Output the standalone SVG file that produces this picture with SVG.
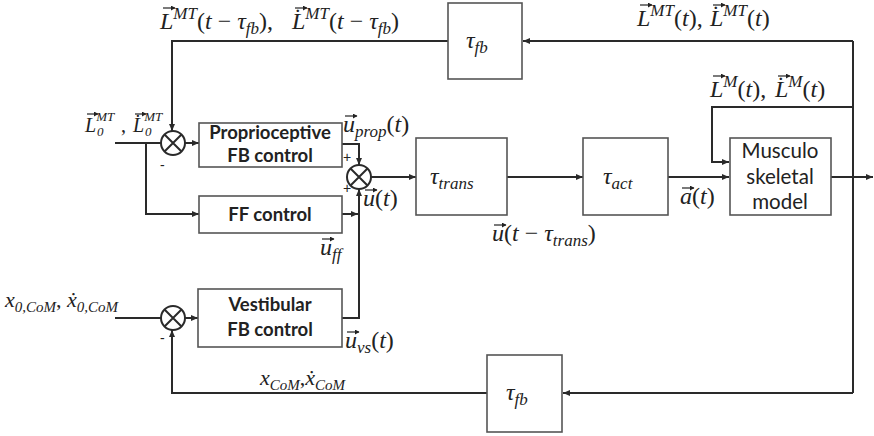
<svg xmlns="http://www.w3.org/2000/svg" width="874" height="436" viewBox="0 0 874 436">
<style>
.box{fill:#fff;stroke:#555;stroke-width:1.6}
.ln{fill:none;stroke:#2a2a2a;stroke-width:2}
.sum{fill:#fff;stroke:#2a2a2a;stroke-width:2}
.vec{fill:none;stroke:#222;stroke-width:1.2}
.bt{font-family:Lato,"Open Sans",sans-serif;font-weight:bold;font-size:18.5px;fill:#222;text-anchor:middle}
.rt{font-family:Lato,"Open Sans",sans-serif;font-size:20.5px;fill:#222;text-anchor:middle}
.m{font-family:"Liberation Serif","DejaVu Serif",serif;font-size:24px;fill:#222}
.mx{font-size:22px}
.m19{font-size:20px}
.i{font-style:italic}
.s{font-size:17px;font-style:italic}
.s15{font-size:15px;font-style:italic}
.s13{font-size:13px;font-style:italic}
.sg{font-family:"Liberation Sans",sans-serif;font-size:14px;fill:#222}
</style>
<defs>
<marker id="ah" markerUnits="userSpaceOnUse" markerWidth="8" markerHeight="8" refX="7" refY="4" orient="auto">
<path d="M0,1 L7,4 L0,7 z" fill="#2a2a2a"/>
</marker>
<marker id="va" markerUnits="userSpaceOnUse" markerWidth="5" markerHeight="5" refX="4" refY="2.5" orient="auto">
<path d="M0,0 L4.5,2.5 L0,5 z" fill="#222"/>
</marker>
</defs>
<g id="connectors">
<path class="ln" d="M853,41 L853,393"/>
<path class="ln" d="M853,41 L523,41" marker-end="url(#ah)"/>
<path class="ln" d="M448,41 L172,41 L172,131" marker-end="url(#ah)"/>
<path class="ln" d="M853,107 L712,107 L712,162 L729,162" marker-end="url(#ah)"/>
<path class="ln" d="M115,143 L161,143"/>
<path class="ln" d="M185,143 L199,143" marker-end="url(#ah)"/>
<path class="ln" d="M146,143 L146,214 L199,214" marker-end="url(#ah)"/>
<path class="ln" d="M342,144 L359,144 L359,165" marker-end="url(#ah)"/>
<path class="ln" d="M342,214 L358,214" marker-end="url(#ah)"/>
<path class="ln" d="M342,318 L359,318 L359,189" marker-end="url(#ah)"/>
<path class="ln" d="M371,177 L416,177" marker-end="url(#ah)"/>
<path class="ln" d="M507,177 L583,177" marker-end="url(#ah)"/>
<path class="ln" d="M668,177 L729,177" marker-end="url(#ah)"/>
<path class="ln" d="M831,177 L873,177" marker-end="url(#ah)"/>
<path class="ln" d="M853,393 L563,393" marker-end="url(#ah)"/>
<path class="ln" d="M487,393 L172,393 L172,330" marker-end="url(#ah)"/>
<path class="ln" d="M115,318 L161,318"/>
<path class="ln" d="M185,318 L198,318" marker-end="url(#ah)"/>
</g>
<g id="tau_fb_top">
<rect class="box" x="448" y="3" width="74" height="76"/>
<text class="m" x="466" y="48"><tspan class="i">τ</tspan><tspan class="s" dy="5">fb</tspan></text>
</g>
<g id="sum1">
<circle class="sum" cx="173" cy="143" r="12"/>
<path class="ln" d="M164.5,134.5 L181.5,151.5 M181.5,134.5 L164.5,151.5"/>
</g>
<g id="sum2">
<circle class="sum" cx="359" cy="177" r="12"/>
<path class="ln" d="M350.5,168.5 L367.5,185.5 M367.5,168.5 L350.5,185.5"/>
</g>
<g id="sum3">
<circle class="sum" cx="173" cy="318" r="12"/>
<path class="ln" d="M164.5,309.5 L181.5,326.5 M181.5,309.5 L164.5,326.5"/>
</g>
<g id="prop">
<rect class="box" x="199" y="123" width="143" height="44"/>
<text class="bt" x="270" y="139">Proprioceptive</text>
<text class="bt" x="270" y="162">FB control</text>
</g>
<g id="ff">
<rect class="box" x="199" y="196" width="143" height="37"/>
<text class="bt" x="270" y="221">FF control</text>
</g>
<g id="vest">
<rect class="box" x="198" y="289" width="144" height="58"/>
<text class="bt" x="270" y="311">Vestibular</text>
<text class="bt" x="270" y="336">FB control</text>
</g>
<g id="tau_trans">
<rect class="box" x="416" y="138" width="91" height="77"/>
<text class="m" x="430" y="184"><tspan class="i">τ</tspan><tspan class="s" dy="5">trans</tspan></text>
</g>
<g id="tau_act">
<rect class="box" x="583" y="138" width="85" height="77"/>
<text class="m" x="603" y="184"><tspan class="i">τ</tspan><tspan class="s" dy="5">act</tspan></text>
</g>
<g id="musculo">
<rect class="box" x="730" y="138" width="101" height="77"/>
<text class="rt" x="780" y="158">Musculo</text>
<text class="rt" x="780" y="184">skeletal</text>
<text class="rt" x="780" y="209">model</text>
</g>
<g id="tau_fb_bottom">
<rect class="box" x="487" y="355" width="75" height="77"/>
<text class="m" x="506" y="400"><tspan class="i">τ</tspan><tspan class="s" dy="5">fb</tspan></text>
</g>
<g id="labels">
<text class="m" x="160" y="29"><tspan class="i">L</tspan><tspan class="s" dy="-10">MT</tspan><tspan dy="10">(</tspan><tspan class="i">t</tspan> − <tspan class="i">τ</tspan><tspan class="s" dy="5">fb</tspan><tspan dy="-5">),</tspan><tspan class="i" x="292">L̇</tspan><tspan class="s" dy="-10">MT</tspan><tspan dy="10">(</tspan><tspan class="i">t</tspan> − <tspan class="i">τ</tspan><tspan class="s" dy="5">fb</tspan><tspan dy="-5">)</tspan></text>
<text class="m" x="637" y="26"><tspan class="i">L</tspan><tspan class="s" dy="-10">MT</tspan><tspan dy="10">(</tspan><tspan class="i">t</tspan>),<tspan class="i" x="710">L̇</tspan><tspan class="s" dy="-10">MT</tspan><tspan dy="10">(</tspan><tspan class="i">t</tspan>)</text>
<text class="m" x="710" y="97"><tspan class="i">L</tspan><tspan class="s" dy="-10">M</tspan><tspan dy="10">(</tspan><tspan class="i">t</tspan>),<tspan class="i" x="775">L̇</tspan><tspan class="s" dy="-10">M</tspan><tspan dy="10">(</tspan><tspan class="i">t</tspan>)</text>
<text class="m m19" x="85" y="132"><tspan class="i">L</tspan><tspan class="s13" dy="-11">MT</tspan><tspan class="s13" x="97" dy="15">0</tspan><tspan x="121" dy="-4">,</tspan><tspan class="i" x="133">L̇</tspan><tspan class="s13" dy="-11">MT</tspan><tspan class="s13" x="145" dy="15">0</tspan></text>
<text class="m" x="343" y="132"><tspan class="i">u</tspan><tspan class="s" dy="5">prop</tspan><tspan dy="-5">(</tspan><tspan class="i">t</tspan>)</text>
<text class="m" x="363" y="206"><tspan class="i">u</tspan>(<tspan class="i">t</tspan>)</text>
<text class="m" x="320" y="255"><tspan class="i">u</tspan><tspan class="s" dy="5">ff</tspan></text>
<text class="m" x="345" y="348"><tspan class="i">u</tspan><tspan class="s" dy="5">vs</tspan><tspan dy="-5">(</tspan><tspan class="i">t</tspan>)</text>
<text class="m" x="680" y="204"><tspan class="i">a</tspan>(<tspan class="i">t</tspan>)</text>
<text class="m" x="492" y="241"><tspan class="i">u</tspan>(<tspan class="i">t</tspan> − <tspan class="i">τ</tspan><tspan class="s" dy="5">trans</tspan><tspan dy="-5">)</tspan></text>
<text class="m mx" x="5" y="307"><tspan class="i">x</tspan><tspan class="s15" dy="5">0,CoM</tspan><tspan dy="-5">, </tspan><tspan class="i">ẋ</tspan><tspan class="s15" dy="5">0,CoM</tspan></text>
<text class="m mx" x="260" y="385"><tspan class="i">x</tspan><tspan class="s15" dy="5">CoM</tspan><tspan dy="-5">,</tspan><tspan class="i">ẋ</tspan><tspan class="s15" dy="5">CoM</tspan></text>
<text class="sg" x="160" y="170">-</text>
<text class="sg" x="160" y="343">-</text>
<text class="sg" x="343" y="162">+</text>
<text class="sg" x="343" y="193">+</text>
</g>
<g id="vector-arrows">
<path class="vec" d="M163,8 L175,8" marker-end="url(#va)"/>
<path class="vec" d="M295,8 L307,8" marker-end="url(#va)"/>
<path class="vec" d="M640,5 L652,5" marker-end="url(#va)"/>
<path class="vec" d="M713,5 L725,5" marker-end="url(#va)"/>
<path class="vec" d="M713,76 L725,76" marker-end="url(#va)"/>
<path class="vec" d="M778,76 L790,76" marker-end="url(#va)"/>
<path class="vec" d="M87,114 L98,114" marker-end="url(#va)"/>
<path class="vec" d="M135,114 L146,114" marker-end="url(#va)"/>
<path class="vec" d="M345,116 L357,116" marker-end="url(#va)"/>
<path class="vec" d="M365,190 L377,190" marker-end="url(#va)"/>
<path class="vec" d="M322,239 L334,239" marker-end="url(#va)"/>
<path class="vec" d="M347,332 L359,332" marker-end="url(#va)"/>
<path class="vec" d="M682,188 L694,188" marker-end="url(#va)"/>
<path class="vec" d="M494,225 L506,225" marker-end="url(#va)"/>
</g>
</svg>
